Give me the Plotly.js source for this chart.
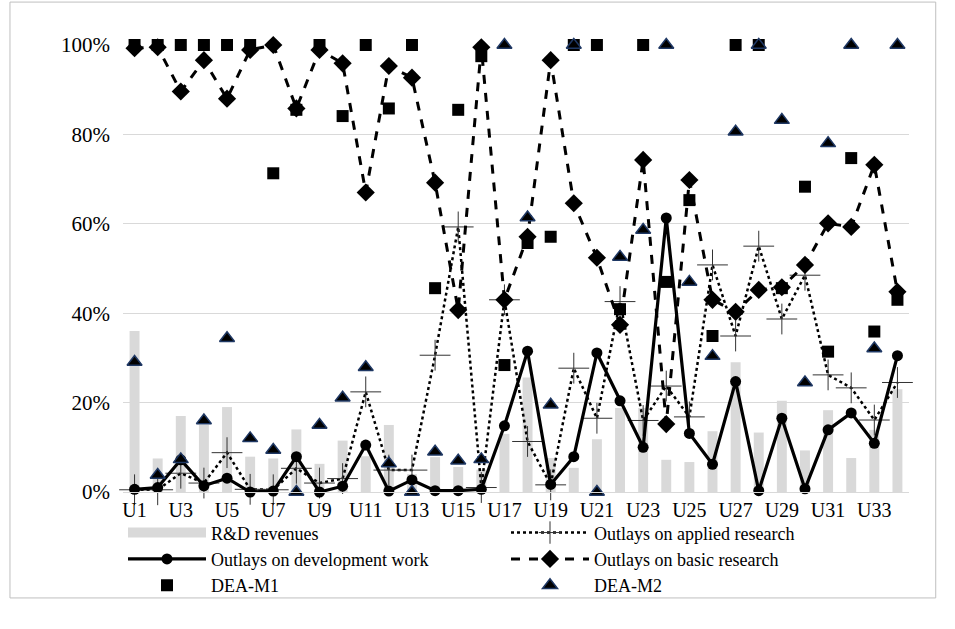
<!DOCTYPE html>
<html>
<head>
<meta charset="utf-8">
<script src="https://cdn.plot.ly/plotly-3.0.1.min.js"></script>
<style>html,body{margin:0;padding:0;background:#fff;}#chart{width:955px;height:629px;}</style>
</head>
<body>
<div id="chart"></div>
<script>
const categories = ["U1","U2","U3","U4","U5","U6","U7","U8","U9","U10","U11","U12","U13","U14","U15","U16","U17","U18","U19","U20","U21","U22","U23","U24","U25","U26","U27","U28","U29","U30","U31","U32","U33","U34"];
const tickLabels = ["U1","U3","U5","U7","U9","U11","U13","U15","U17","U19","U21","U23","U25","U27","U29","U31","U33"];
const rdRevenues = [0.36,0.075,0.17,0.15,0.19,0.079,0.075,0.14,0.063,0.115,0.08,0.15,0.04,0.078,0.056,0.05,0.13,0.256,0.076,0.054,0.118,0.188,0.188,0.072,0.067,0.136,0.29,0.133,0.204,0.093,0.183,0.076,0.139,0.23];
const appliedResearch = [0.005,0.005,0.042,0.02,0.088,0.006,0.005,0.053,0.02,0.03,0.224,0.049,0.049,0.306,0.593,0.01,0.43,0.113,0.016,0.277,0.165,0.426,0.16,0.237,0.168,0.508,0.349,0.55,0.387,0.485,0.262,0.233,0.161,0.245];
const developmentWork = [0.006,0.01,0.072,0.014,0.031,0.0,0.002,0.079,0.0,0.013,0.105,0.002,0.027,0.003,0.003,0.006,0.148,0.315,0.017,0.079,0.311,0.204,0.10,0.613,0.131,0.062,0.247,0.003,0.165,0.007,0.139,0.177,0.109,0.305];
const basicResearch = [0.993,0.995,0.896,0.966,0.88,0.989,1.0,0.858,0.989,0.959,0.67,0.953,0.927,0.692,0.407,0.995,0.43,0.571,0.966,0.646,0.524,0.374,0.743,0.152,0.698,0.43,0.403,0.452,0.458,0.508,0.601,0.593,0.732,0.448];
const deaM1 = [1,1,1,1,1,1,0.713,0.855,1,0.841,1,0.858,1,0.456,0.855,0.975,0.284,0.557,0.571,1,1,0.409,1,0.47,0.653,0.349,1,1,0.456,0.683,0.314,0.747,0.359,0.43];
const deaM2 = [0.291,0.038,0.073,0.16,0.344,0.12,0.094,0.0,0.15,0.211,0.279,0.064,0.0,0.09,0.07,0.073,1,0.614,0.195,1,0.0,0.526,0.586,1,0.47,0.304,0.806,1,0.832,0.245,0.78,1,0.321,1];

const serif = "Times New Roman, Liberation Serif, DejaVu Serif, serif";

const traces = [
  {type:'bar', name:'R&D revenues', x:categories, y:rdRevenues, showlegend:false,
   marker:{color:'#d9d9d9'}, hoverinfo:'skip'},
  // legend-only swatch for the bars (wide grey rectangle as in the reference)
  {type:'scatter', mode:'lines', name:'R&D revenues', x:[null], y:[null], legendrank:1,
   line:{color:'#d9d9d9', width:12}},
  {type:'scatter', mode:'lines+markers', name:'Outlays on applied research', x:categories, y:appliedResearch, legendrank:2,
   line:{color:'#000', width:2.5, dash:'dot'},
   marker:{symbol:'cross-thin-open', size:22, color:'#333', line:{color:'#333', width:1}},
   cliponaxis:false},
  {type:'scatter', mode:'lines+markers', name:'Outlays on development work', x:categories, y:developmentWork, legendrank:3,
   line:{color:'#000', width:3.2},
   marker:{symbol:'circle', size:11, color:'#000'}, cliponaxis:false},
  {type:'scatter', mode:'lines+markers', name:'Outlays on basic research', x:categories, y:basicResearch, legendrank:4,
   line:{color:'#000', width:3, dash:'dash'},
   marker:{symbol:'diamond', size:14, color:'#000'}, cliponaxis:false},
  {type:'scatter', mode:'markers', name:'DEA-M1', x:categories, y:deaM1, legendrank:5,
   marker:{symbol:'square', size:12, color:'#000'}, cliponaxis:false},
  {type:'scatter', mode:'markers', name:'DEA-M2', x:categories, y:deaM2, legendrank:6,
   marker:{symbol:'triangle-up', size:13, color:'#000', line:{color:'#1f3864', width:1.5}}, cliponaxis:false}
];

const layout = {
  width:955, height:629,
  margin:{l:123, r:46, t:45, b:137},
  paper_bgcolor:'#fff', plot_bgcolor:'#fff',
  font:{family:serif, color:'#000', size:20},
  bargap:0.57,
  showlegend:true,
  xaxis:{type:'category', range:[-0.5,33.5], autorange:false, tickmode:'array', tickvals:tickLabels, ticktext:tickLabels,
         showgrid:false, zeroline:false, showline:true, linecolor:'#d9d9d9', linewidth:1,
         ticks:'', tickfont:{family:serif, size:20, color:'#000'}},
  yaxis:{range:[0,1], autorange:false, tickvals:[0,0.2,0.4,0.6,0.8,1], tickformat:'.0%',
         showgrid:true, gridcolor:'#d9d9d9', gridwidth:1, zeroline:false, showline:false,
         ticks:'', ticklabelstandoff:12, tickfont:{family:serif, size:21, color:'#000'}},
  legend:{orientation:'h', x:0.0, xanchor:'left', y:-0.05, yanchor:'top',
          entrywidth:290, entrywidthmode:'pixels', itemwidth:78,
          font:{family:serif, size:18, color:'#000'}, bgcolor:'rgba(0,0,0,0)', traceorder:'normal'},
  shapes:[{type:'rect', xref:'paper', yref:'paper', x0:-0.1438, x1:1.034, y0:-0.237, y1:1.096,
           line:{color:'#bfbfbf', width:1}, fillcolor:'rgba(0,0,0,0)', layer:'below'}]
};

Plotly.newPlot('chart', traces, layout, {displayModeBar:false, staticPlot:true});
</script>
</body>
</html>
